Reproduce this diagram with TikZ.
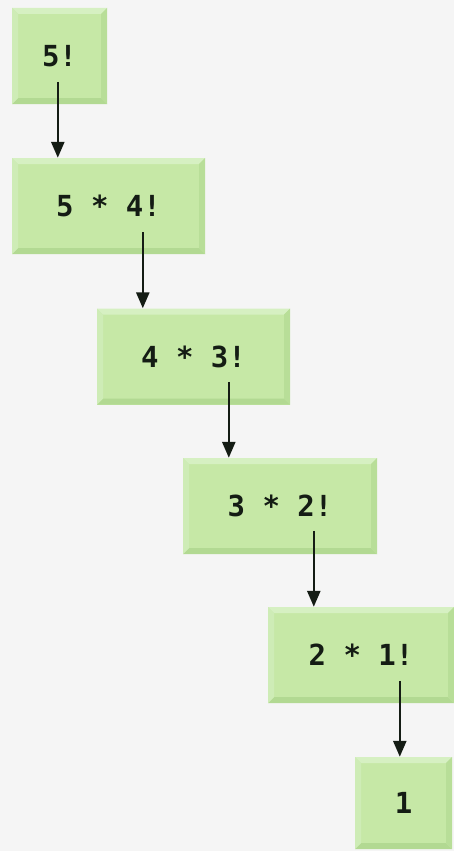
\documentclass[tikz,border=0pt]{standalone}
\usepackage{fontspec}
\setmonofont{DejaVu Sans Mono}
\usepackage{tikz}
\usetikzlibrary{arrows.meta,positioning,calc}
\definecolor{pagegray}{RGB}{245,245,245}
\definecolor{boxgreen}{RGB}{198,232,166}
\definecolor{bevellight}{RGB}{214,240,194}
\definecolor{bevelside}{RGB}{206,236,182}
\definecolor{beveldark}{RGB}{178,217,146}
\definecolor{inkdark}{RGB}{20,28,20}
\newcommand{\ppb}{path picture bounding box}

\begin{document}
\begin{tikzpicture}[x=1pt,y=-1pt,
    stepbox/.style={minimum height=96, inner sep=0, fill=boxgreen,
        font=\ttfamily\bfseries\fontsize{29}{34}\selectfont, text=inkdark,
        path picture={
            \fill[bevellight] (\ppb.north west) -- (\ppb.north east) -- ([shift={(-6,6)}]\ppb.north east) -- ([shift={(6,6)}]\ppb.north west) -- cycle;
            \fill[beveldark] (\ppb.south west) -- (\ppb.south east) -- ([shift={(-6,-6)}]\ppb.south east) -- ([shift={(6,-6)}]\ppb.south west) -- cycle;
            \fill[bevelside] (\ppb.north west) -- ([shift={(6,6)}]\ppb.north west) -- ([shift={(6,-6)}]\ppb.south west) -- (\ppb.south west) -- cycle;
            \fill[beveldark!70!boxgreen] (\ppb.north east) -- ([shift={(-6,6)}]\ppb.north east) -- ([shift={(-6,-6)}]\ppb.south east) -- (\ppb.south east) -- cycle;
        }},
    arr/.style={-{Triangle[length=16pt,width=13pt]}, line width=2.6pt, inkdark}]
    \fill[pagegray] (0,0) rectangle (454,851);
    \node[stepbox, minimum width=95] (f5) at (59.5,56) {5!};
    \node[stepbox, minimum width=193] (m54) at (108.5,206) {5 * 4!};
    \node[stepbox, minimum width=193] (m43) at (193.5,356.5) {4 * 3!};
    \node[stepbox, minimum width=194] (m32) at (280,506) {3 * 2!};
    \node[stepbox, minimum width=186] (m21) at (361,655) {2 * 1!};
    \node[stepbox, minimum width=97, minimum height=92] (one) at (403.5,803) {1};
    \draw[arr] ([shift={(46,-76)}]m54.north west) -- ([xshift=46]m54.north west);
    \draw[arr] ([shift={(46,-76)}]m43.north west) -- ([xshift=46]m43.north west);
    \draw[arr] ([shift={(46,-76)}]m32.north west) -- ([xshift=46]m32.north west);
    \draw[arr] ([shift={(46,-76)}]m21.north west) -- ([xshift=46]m21.north west);
    \draw[arr] ([shift={(45,-76)}]one.north west) -- ([xshift=45]one.north west);
\end{tikzpicture}
\end{document}
